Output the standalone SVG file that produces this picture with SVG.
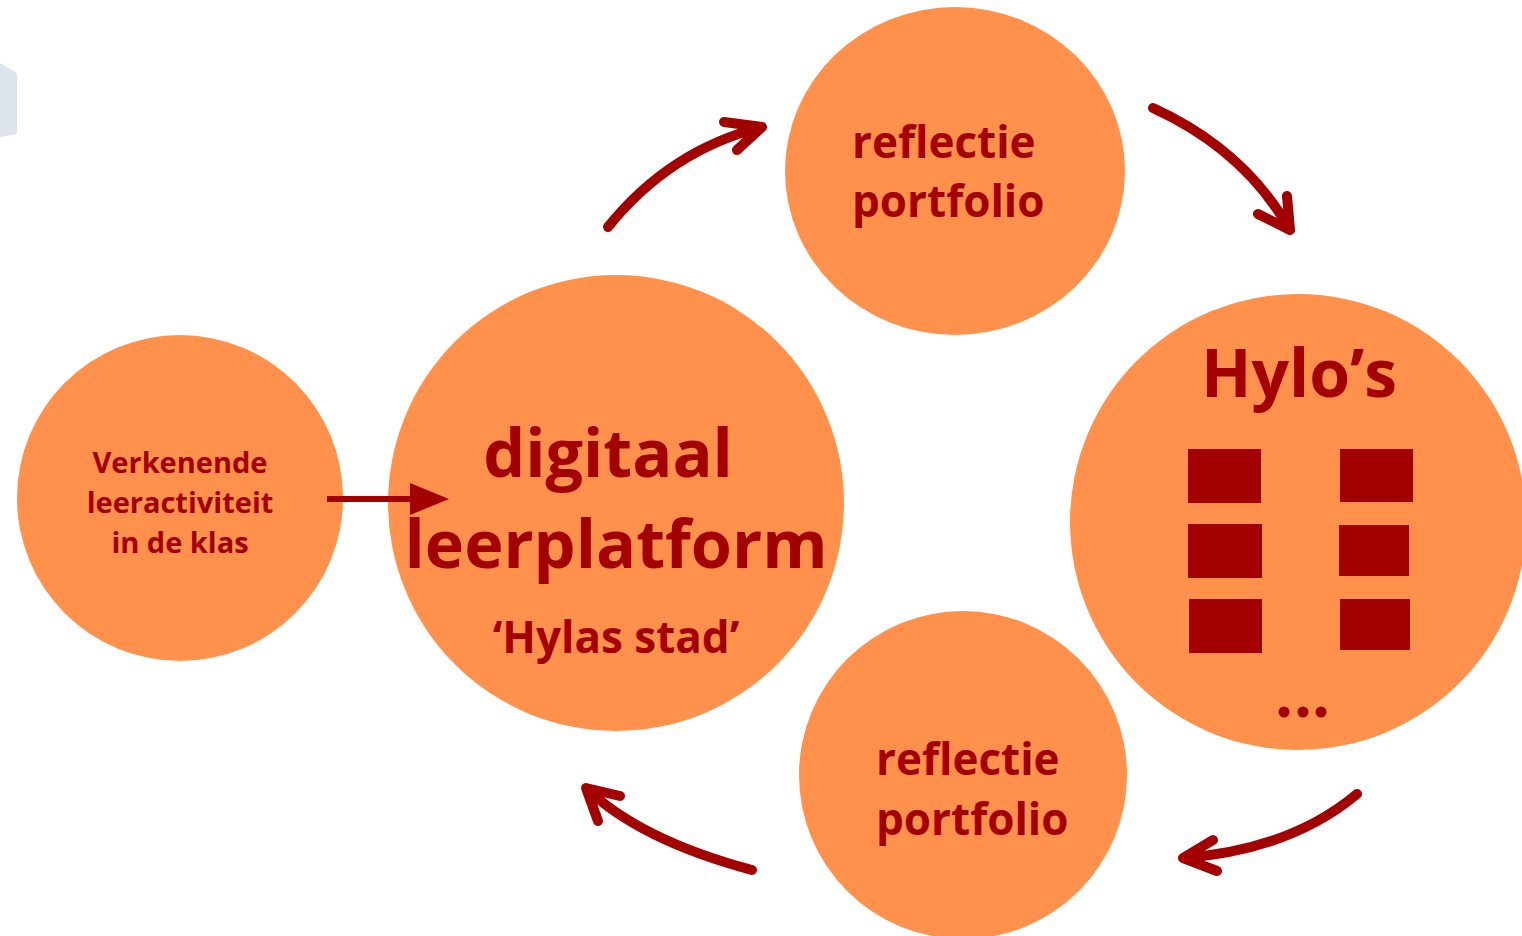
<svg xmlns="http://www.w3.org/2000/svg" width="1522" height="936" viewBox="0 0 1522 936">
<style>
.node{fill:#FF914D}
.t{font-family:"Open Sans","Liberation Sans",sans-serif;font-weight:bold;fill:#A30000}
.c{stroke:#A30000;fill:none;stroke-width:10;stroke-linecap:round;stroke-linejoin:round}
.sq{fill:#A30000}
</style>
<rect width="1522" height="936" fill="#ffffff"/>
<polygon points="0,63 15,72 17,74 17,134 0,137" fill="#dde4ec"/>
<g id="node-verkenende">
<circle class="node" cx="180" cy="498" r="163"/>
<text class="t" font-size="29" text-anchor="middle"><tspan x="180" y="473">Verkenende</tspan><tspan x="180" y="513">leeractiviteit</tspan><tspan x="180" y="553">in de klas</tspan></text>
</g>
<g id="node-digitaal">
<circle class="node" cx="616" cy="503" r="228"/>
<text class="t" font-size="66.5" text-anchor="middle"><tspan x="608" y="477">digitaal</tspan><tspan x="616" y="568">leerplatform</tspan></text>
<text class="t" font-size="44" text-anchor="middle" x="616" y="653">‘Hylas stad’</text>
</g>
<g id="node-reflectie-top">
<ellipse class="node" cx="955" cy="171" rx="170" ry="164"/>
<text class="t" font-size="44"><tspan x="852" y="158">reflectie</tspan><tspan x="852" y="217">portfolio</tspan></text>
</g>
<g id="node-hylos">
<circle class="node" cx="1298" cy="522" r="228"/>
<text class="t" font-size="66" x="1201" y="397">Hylo’s</text>
<rect class="sq" x="1188" y="449" width="73" height="54"/>
<rect class="sq" x="1188" y="524" width="74" height="54"/>
<rect class="sq" x="1189" y="599" width="73" height="54"/>
<rect class="sq" x="1340" y="449" width="73" height="53"/>
<rect class="sq" x="1339" y="525" width="70" height="51"/>
<rect class="sq" x="1340" y="599" width="70" height="51"/>
<circle class="sq" cx="1284" cy="712" r="5.5"/>
<circle class="sq" cx="1303" cy="712" r="5.5"/>
<circle class="sq" cx="1321" cy="712" r="5.5"/>
</g>
<g id="node-reflectie-bottom">
<circle class="node" cx="963" cy="775" r="164"/>
<text class="t" font-size="44"><tspan x="876" y="775">reflectie</tspan><tspan x="876" y="835">portfolio</tspan></text>
</g>
<g id="connectors">
<path class="c" d="M608,227 Q670,150 762,127 M724,122 L762,127 L737,150"/>
<path class="c" d="M1153,108 Q1245,150 1290,230 M1258,214 L1290,230 L1287,196"/>
<path class="c" d="M1357,794 Q1290,850 1183,858 M1213,840 L1183,858 L1217,871"/>
<path class="c" d="M752,870 Q640,840 586,788 M620,796 L586,788 L598,821"/>
<line x1="327" y1="499" x2="420" y2="499" stroke="#A30000" stroke-width="6"/>
<polygon points="410,483 449,499 410,515" fill="#A30000"/>
</g>
</svg>
